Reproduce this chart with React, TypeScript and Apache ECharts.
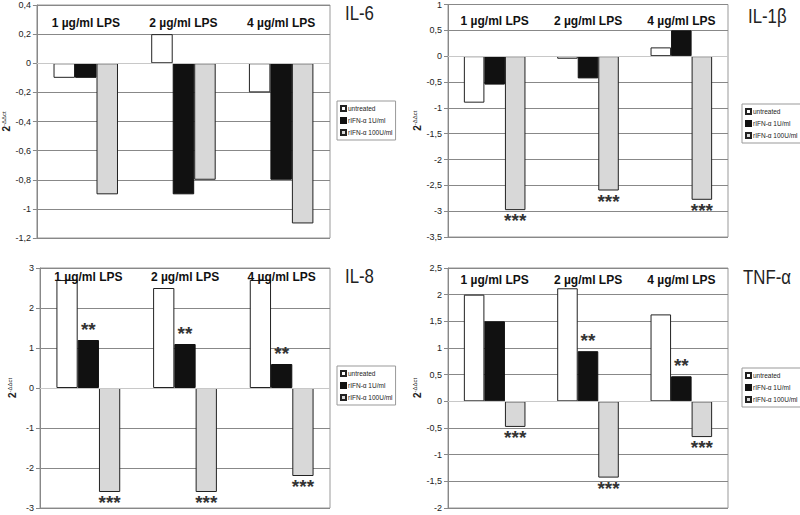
import React, { useEffect, useRef } from "react";
import * as echarts from "echarts";

const categories = ["1 µg/ml LPS", "2 µg/ml LPS", "4 µg/ml LPS"];
const seriesNames = ["untreated", "rIFN-α 1U/ml", "rIFN-α 100U/ml"];

// IL-6
const il6Untreated = [-0.1, 0.2, -0.2];
const il6Ifn1 = [-0.1, -0.9, -0.8];
const il6Ifn100 = [-0.9, -0.8, -1.1];
const il6Sig1 = ["", "", ""];
const il6Sig100 = ["", "", ""];

// IL-1β
const il1bUntreated = [-0.9, -0.05, 0.17];
const il1bIfn1 = [-0.55, -0.43, 0.5];
const il1bIfn100 = [-2.98, -2.6, -2.78];
const il1bSig1 = ["", "", ""];
const il1bSig100 = ["***", "***", "***"];

// IL-8
const il8Untreated = [2.7, 2.5, 2.7];
const il8Ifn1 = [1.2, 1.1, 0.6];
const il8Ifn100 = [-2.6, -2.6, -2.2];
const il8Sig1 = ["**", "**", "**"];
const il8Sig100 = ["***", "***", "***"];

// TNF-α
const tnfUntreated = [2.0, 2.12, 1.63];
const tnfIfn1 = [1.5, 0.94, 0.47];
const tnfIfn100 = [-0.48, -1.43, -0.67];
const tnfSig1 = ["", "**", "**"];
const tnfSig100 = ["***", "***", "***"];

const panels = [
  { title: "IL-6", untreated: il6Untreated, ifn1: il6Ifn1, ifn100: il6Ifn100, sig1: il6Sig1, sig100: il6Sig100, min: -1.2, max: 0.4, interval: 0.2,
    grid: { left: 35, top: 5, width: 295, height: 233 }, labelMargin: 12, titlePos: { x: 345, y: 13 }, legendPos: { left: 337, top: 101 } },
  { title: "IL-1β", untreated: il1bUntreated, ifn1: il1bIfn1, ifn100: il1bIfn100, sig1: il1bSig1, sig100: il1bSig100, min: -3.5, max: 1, interval: 0.5,
    grid: { left: 448, top: 4, width: 280, height: 233 }, labelMargin: 10, titlePos: { x: 748, y: 16 }, legendPos: { left: 742, top: 104 } },
  { title: "IL-8", untreated: il8Untreated, ifn1: il8Ifn1, ifn100: il8Ifn100, sig1: il8Sig1, sig100: il8Sig100, min: -3, max: 3, interval: 1,
    grid: { left: 40, top: 268, width: 290, height: 240 }, labelMargin: 3, titlePos: { x: 345, y: 276 }, legendPos: { left: 337, top: 366 } },
  { title: "TNF-α", untreated: tnfUntreated, ifn1: tnfIfn1, ifn100: tnfIfn100, sig1: tnfSig1, sig100: tnfSig100, min: -2, max: 2.5, interval: 0.5,
    grid: { left: 448, top: 268, width: 280, height: 240 }, labelMargin: 6, titlePos: { x: 743, y: 277 }, legendPos: { left: 742, top: 368 } },
];

const FONT = "Arial, 'Liberation Sans', sans-serif";

function buildData(values: number[], sig: string[]) {
  return values.map((v, i) => ({
    value: v,
    label: {
      show: !!sig[i],
      formatter: sig[i] || "",
      position: v < 0 ? "bottom" : "top",
      distance: 1,
      fontSize: 19,
      fontWeight: "bold",
      color: "#333",
      fontFamily: FONT,
    },
  }));
}

export default function App() {
  const ref = useRef<HTMLDivElement>(null);
  useEffect(() => {
    if (!ref.current) return;
    const chart = echarts.init(ref.current, undefined, { renderer: "svg" });
    const grids: any[] = [];
    const xAxes: any[] = [];
    const yAxes: any[] = [];
    const series: any[] = [];
    const graphics: any[] = [];
    const legends: any[] = [];
    panels.forEach((p, i) => {
      grids.push({ ...p.grid, show: true, borderColor: "#999", borderWidth: 1, backgroundColor: "transparent" });
      xAxes.push({
        gridIndex: i, type: "category", data: categories, position: "top",
        axisLine: { show: false }, axisTick: { show: false }, splitLine: { show: false },
        axisLabel: { inside: true, margin: p.labelMargin, fontSize: 12, fontWeight: "bold", color: "#111", fontFamily: FONT },
        z: 10,
      });
      yAxes.push({
        gridIndex: i, type: "value", min: p.min, max: p.max, interval: p.interval,
        axisLine: { show: true, lineStyle: { color: "#888" } },
        axisTick: { show: true, length: 4, lineStyle: { color: "#888" } },
        splitLine: { show: true, lineStyle: { color: "#888", width: 1 } },
        axisLabel: {
          fontSize: 9, color: "#222", fontFamily: FONT, margin: 6,
          formatter: (v: number) => String(+v.toFixed(2)).replace(".", ","),
        },
        name: "{b|2}{s|-ΔΔct}", nameLocation: "middle", nameRotate: 90, nameGap: 22,
        nameTextStyle: {
          rich: {
            b: { fontSize: 10, fontWeight: "bold", color: "#222", fontFamily: FONT },
            s: { fontSize: 6, color: "#222", fontFamily: FONT, verticalAlign: "top", padding: [0, 0, 5, 0] },
          },
        },
      });
      const common = { type: "bar", xAxisIndex: i, yAxisIndex: i, barGap: "0%", barCategoryGap: "34%" };
      series.push({
        ...common, name: seriesNames[0], data: buildData(p.untreated, ["", "", ""]),
        itemStyle: { color: "#ffffff", borderColor: "#222", borderWidth: 1 },
        markLine: {
          silent: true, symbol: "none", label: { show: false },
          lineStyle: { color: "#c8c8c8", type: "solid", width: 1 },
          data: [{ yAxis: 0 }],
        },
      });
      series.push({
        ...common, name: seriesNames[1], data: buildData(p.ifn1, p.sig1),
        itemStyle: { color: "#111111", borderColor: "#111", borderWidth: 1 },
      });
      series.push({
        ...common, name: seriesNames[2], data: buildData(p.ifn100, p.sig100),
        itemStyle: { color: "#d8d8d8", borderColor: "#222", borderWidth: 1 },
      });
      graphics.push({
        type: "text", x: p.titlePos.x, y: p.titlePos.y, scaleX: 0.8, silent: true,
        style: { text: p.title, fontSize: 21, fontFamily: FONT, fill: "#222", align: "left", verticalAlign: "middle" },
      });
      legends.push({
        data: seriesNames, orient: "vertical", left: p.legendPos.left, top: p.legendPos.top,
        itemWidth: 5, itemHeight: 5, itemGap: 5, padding: [4, 3, 4, 3],
        borderColor: "#999", borderWidth: 1, backgroundColor: "#fff",
        textStyle: { fontSize: 6.5, color: "#222", fontFamily: FONT, padding: [0, 0, 0, -3] },
        icon: "rect", selectedMode: false,
      });
    });
    chart.setOption({
      animation: false,
      backgroundColor: "#ffffff",
      legend: legends,
      grid: grids,
      xAxis: xAxes,
      yAxis: yAxes,
      series,
      graphic: graphics,
    });
    return () => chart.dispose();
  }, []);
  return <div ref={ref} style={{ position: "fixed", left: 0, top: 0, width: 800, height: 515 }} />;
}
